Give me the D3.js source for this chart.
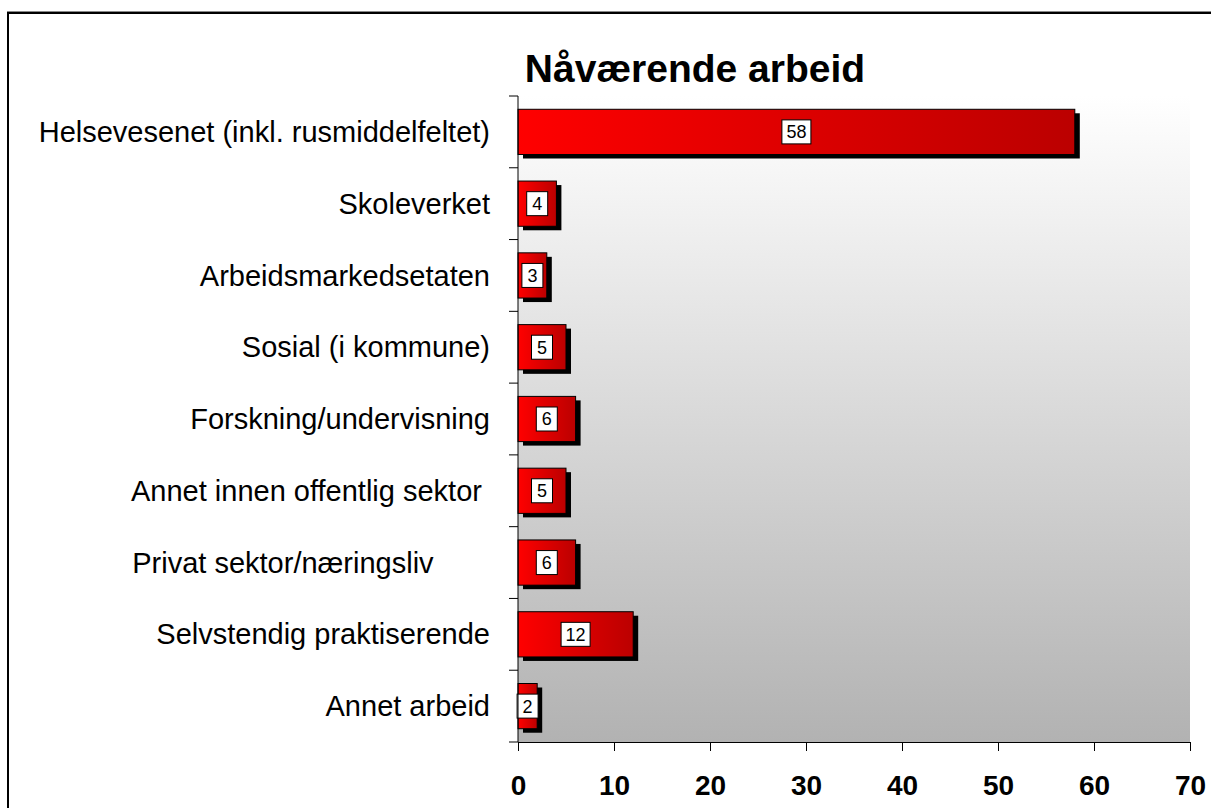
<!DOCTYPE html>
<html>
<head>
<meta charset="utf-8">
<script src="https://cdn.jsdelivr.net/npm/d3@7"></script>
<style>
  body { margin: 0; background: #fff; }
  svg { display: block; }
  text { font-family: "Liberation Sans", Arial, sans-serif; }
</style>
</head>
<body>
<div id="chart"></div>
<script>
/* globals d3 */
const categories = [
  "Helsevesenet (inkl. rusmiddelfeltet)",
  "Skoleverket",
  "Arbeidsmarkedsetaten",
  "Sosial (i kommune)",
  "Forskning/undervisning",
  "Annet innen offentlig sektor ",
  "Privat sektor/næringsliv       ",
  "Selvstendig praktiserende",
  "Annet arbeid",
];
const values = [58, 4, 3, 5, 6, 5, 6, 12, 2];
const xTicks = [0, 10, 20, 30, 40, 50, 60, 70];
const title = "Nåværende arbeid";

const width = 1211;
const height = 808;
const plot = { left: 518, right: 1190, top: 96, bottom: 742 };

const svg = d3
  .select("#chart")
  .append("svg")
  .attr("width", width)
  .attr("height", height);

const defs = svg.append("defs");

const bg = defs
  .append("linearGradient")
  .attr("id", "bgGrad")
  .attr("x1", 0).attr("y1", 0).attr("x2", 0).attr("y2", 1);
bg.append("stop").attr("offset", "0%").attr("stop-color", "#ffffff");
bg.append("stop").attr("offset", "100%").attr("stop-color", "#b2b2b2");

const barGrad = defs
  .append("linearGradient")
  .attr("id", "barGrad")
  .attr("x1", 0).attr("y1", 0).attr("x2", 1).attr("y2", 0);
barGrad.append("stop").attr("offset", "0%").attr("stop-color", "#ff0000");
barGrad.append("stop").attr("offset", "100%").attr("stop-color", "#bb0000");

// outer frame
svg
  .append("line")
  .attr("x1", 7).attr("x2", width).attr("y1", 11.5).attr("y2", 11.5)
  .attr("stroke", "#888").attr("stroke-width", 1);
svg
  .append("path")
  .attr("d", `M8,${height}V13H${width}`)
  .attr("fill", "none")
  .attr("stroke", "#000")
  .attr("stroke-width", 2);

const x = d3.scaleLinear().domain([0, 70]).range([plot.left, plot.right]);
const y = d3
  .scaleBand()
  .domain(categories)
  .range([plot.top, plot.bottom])
  .paddingInner(0.37)
  .paddingOuter(0.185);

// plot background
svg
  .append("rect")
  .attr("x", plot.left)
  .attr("y", plot.top)
  .attr("width", plot.right - plot.left)
  .attr("height", plot.bottom - plot.top)
  .attr("fill", "url(#bgGrad)");

// title
svg
  .append("text")
  .attr("x", 695)
  .attr("y", 82)
  .attr("text-anchor", "middle")
  .attr("font-size", "39px")
  .attr("font-weight", "bold")
  .text(title);

const rows = categories.map((c, i) => ({ cat: c, val: values[i] }));

// shadows
svg
  .append("g")
  .selectAll("rect")
  .data(rows)
  .join("rect")
  .attr("x", x(0) + 5)
  .attr("y", (d) => y(d.cat) + 4)
  .attr("width", (d) => x(d.val) - x(0))
  .attr("height", y.bandwidth())
  .attr("fill", "#000");

// bars
svg
  .append("g")
  .selectAll("rect")
  .data(rows)
  .join("rect")
  .attr("x", x(0))
  .attr("y", (d) => y(d.cat))
  .attr("width", (d) => x(d.val) - x(0))
  .attr("height", y.bandwidth())
  .attr("fill", "url(#barGrad)")
  .attr("stroke", "#000")
  .attr("stroke-width", 1);

// value labels
const lab = svg
  .append("g")
  .selectAll("g")
  .data(rows)
  .join("g")
  .attr("transform", (d) =>
    `translate(${(x(0) + x(d.val)) / 2},${y(d.cat) + y.bandwidth() / 2})`
  );
lab
  .append("rect")
  .attr("x", (d) => (d.val >= 10 ? -14.5 : -10.5))
  .attr("y", -12)
  .attr("width", (d) => (d.val >= 10 ? 29 : 21))
  .attr("height", 24)
  .attr("fill", "#fff")
  .attr("stroke", "#000")
  .attr("stroke-width", 1);
lab
  .append("text")
  .attr("text-anchor", "middle")
  .attr("dy", "0.36em")
  .attr("font-size", "18px")
  .text((d) => d.val);

// axes
const yAxis = d3.axisLeft(y).tickSize(0).tickFormat("");
svg
  .append("g")
  .attr("transform", `translate(${plot.left},0)`)
  .call(yAxis)
  .call((g) => g.select(".domain").attr("d", `M0,${plot.top}V${plot.bottom}`).attr("stroke", "#000"));

// category tick marks at band boundaries
const step = y.step();
const bounds = d3.range(categories.length + 1).map((i) => plot.top + i * step);
svg
  .append("g")
  .selectAll("line")
  .data(bounds)
  .join("line")
  .attr("x1", plot.left - 9)
  .attr("x2", plot.left)
  .attr("y1", (d) => d)
  .attr("y2", (d) => d)
  .attr("stroke", "#000");

// category labels
svg
  .append("g")
  .selectAll("text")
  .data(categories)
  .join("text")
  .attr("x", 490)
  .attr("y", (d) => y(d) + y.bandwidth() / 2)
  .attr("dy", "0.35em")
  .attr("text-anchor", "end")
  .attr("font-size", "29px")
  .style("white-space", "pre")
  .text((d) => d);

const xAxis = d3.axisBottom(x).tickValues(xTicks).tickSize(9).tickPadding(24);
svg
  .append("g")
  .attr("transform", `translate(0,${plot.bottom})`)
  .call(xAxis)
  .call((g) => g.select(".domain").attr("d", `M${plot.left},0.5H${plot.right}`).attr("stroke", "#000"))
  .call((g) => g.selectAll(".tick line").attr("stroke", "#000"))
  .call((g) =>
    g
      .selectAll(".tick text")
      .attr("font-size", "28px")
      .attr("font-weight", "bold")
      .attr("font-family", "Liberation Sans, Arial, sans-serif")
      .attr("fill", "#000")
  );
</script>
</body>
</html>
